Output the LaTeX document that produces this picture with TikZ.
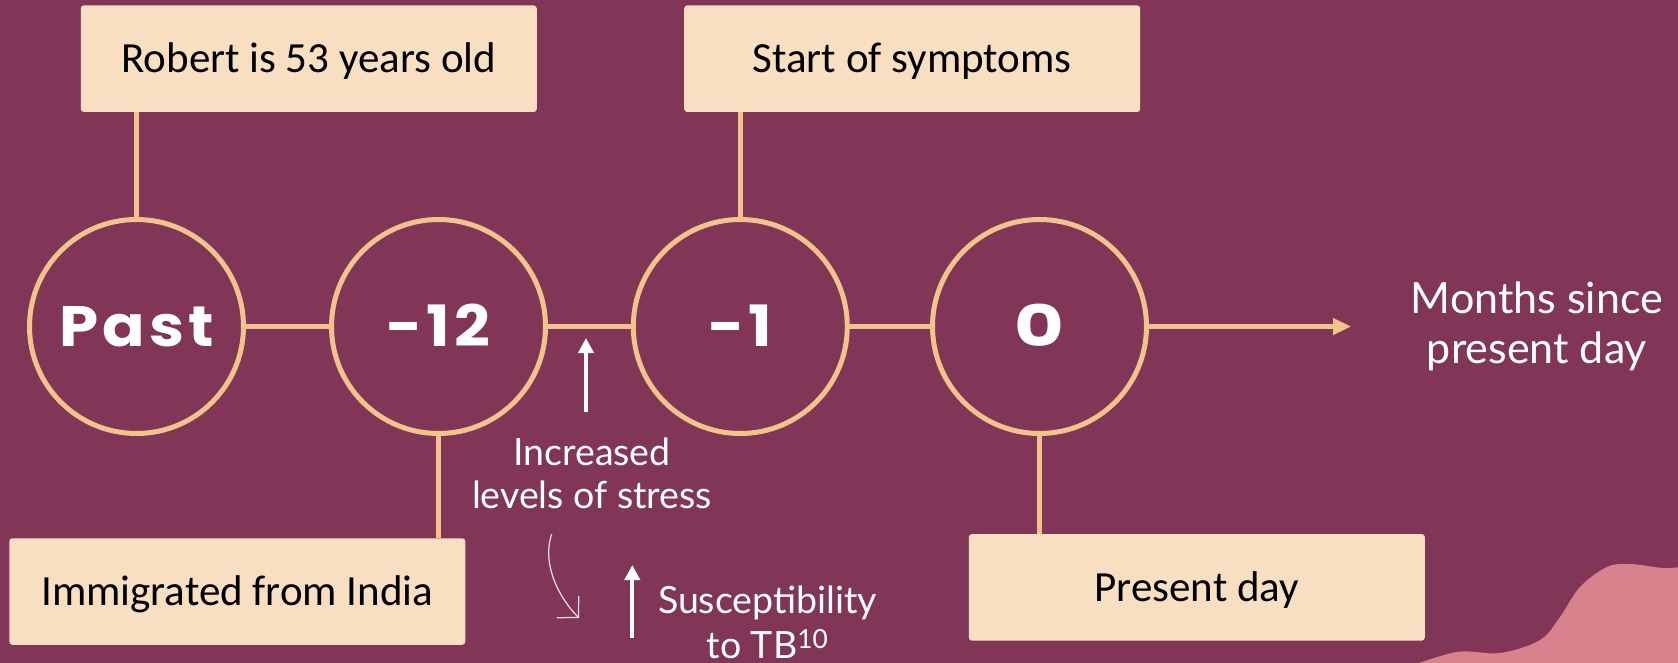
\documentclass[tikz,border=0pt]{standalone}
\usepackage{fontspec}
\setmainfont{Carlito}
\newfontfamily\latofont{Lato}
\newfontfamily\popfont[LetterSpace=7,FakeStretch=1.1]{Poppins}
\usetikzlibrary{arrows.meta}
\definecolor{bg}{HTML}{823657}
\definecolor{tan}{HTML}{F0C48A}
\definecolor{boxfill}{HTML}{F8DFC1}
\definecolor{blob}{HTML}{D8828D}
\begin{document}
\begin{tikzpicture}[x=1pt,y=-1pt,
  event/.style={circle, draw=tan, line width=5pt, minimum size=214pt, inner sep=0pt,
    text=white, font=\popfont\bfseries\fontsize{57}{60}\selectfont, text height=40pt, text depth=0pt},
  labelbox/.style={rectangle, rounded corners=3pt, fill=boxfill, minimum width=456pt,
    minimum height=106.5pt, inner sep=0pt, text=black,
    font=\fontsize{43}{50}\selectfont, text height=27.5pt, text depth=0pt},
  link/.style={draw=tan, line width=5pt},
  note/.style={text=white, font=\latofont\fontsize{37.5}{43.3}\selectfont, align=center, inner sep=0pt},
  uparrow/.style={draw=white, line width=4pt, -{Triangle[length=15pt,width=15pt]}},
]
% background
\fill[bg] (0,0) rectangle (1678,663);
\useasboundingbox (0,0) rectangle (1678,663);
\fill[blob] plot[smooth, tension=0.6] coordinates {(1405,668) (1457,652) (1500,653) (1540,640) (1560,617) (1580,587) (1607,567) (1630,564) (1663,568) (1680,567)} -- (1680,668) -- cycle;

% circles
\node[event] (past) at (136.5,326.5) {Past};
\node[event] (m12) at (438.5,326.5) {-12};
\node[event] (m1) at (740.3,326.5) {-1};
\node[event] (zero) at (1039.5,326.5) {\scalebox{1.22}[1]{0}};

% boxes
\node[labelbox] (robert) at (308.75,58.75) {Robert is 53 years old};
\node[labelbox] (symptoms) at (912.2,58.75) {Start of symptoms};
\node[labelbox] (india) at (237.3,591.5) {Immigrated from India};
\node[labelbox] (present) at (1196.8,587.3) {Present day};

% timeline
\draw[link] (past) -- (m12);
\draw[link] (m12) -- (m1);
\draw[link] (m1) -- (zero);
\coordinate (timeend) at (1351,326.5);
\draw[link, -{Triangle[length=18pt,width=16pt]}] (zero) -- (timeend);

% connectors to boxes
\draw[link] (robert.south -| past.north) -- (past.north);
\draw[link] (symptoms.south -| m1.north) -- (m1.north);
\draw[link] (m12.south) -- (m12.south |- india.north);
\draw[link] (zero.south) -- (zero.south |- present.north);

% notes (base anchor = baseline of the last line)
\node[note, anchor=base] (stress) at (592,508.3) {Increased\\levels of stress};
\node[note, font=\latofont\fontsize{37.5}{45}\selectfont, anchor=base] (suscept) at (767.5,658) {Susceptibility\\to TB\textsuperscript{10}};
\node[note, font=\latofont\fontsize{43}{50.5}\selectfont, anchor=base] (months) at (1537,363.6) {Months since\\present day};

% arrows
\coordinate (s1a) at (586,412);
\coordinate (s1b) at (586,338);
\draw[uparrow] (s1a) -- (s1b);
\coordinate (s2a) at (632.3,638);
\coordinate (s2b) at (632.3,565);
\draw[uparrow] (s2a) -- (s2b);
\coordinate (c1) at (551.7,534);
\coordinate (c2) at (579,618);
\draw[white, opacity=0.85, line width=1.2pt, -{Straight Barb[length=15pt,width=31pt]}] (c1) .. controls (541,566) and (561,600) .. (c2);
\end{tikzpicture}
\end{document}
